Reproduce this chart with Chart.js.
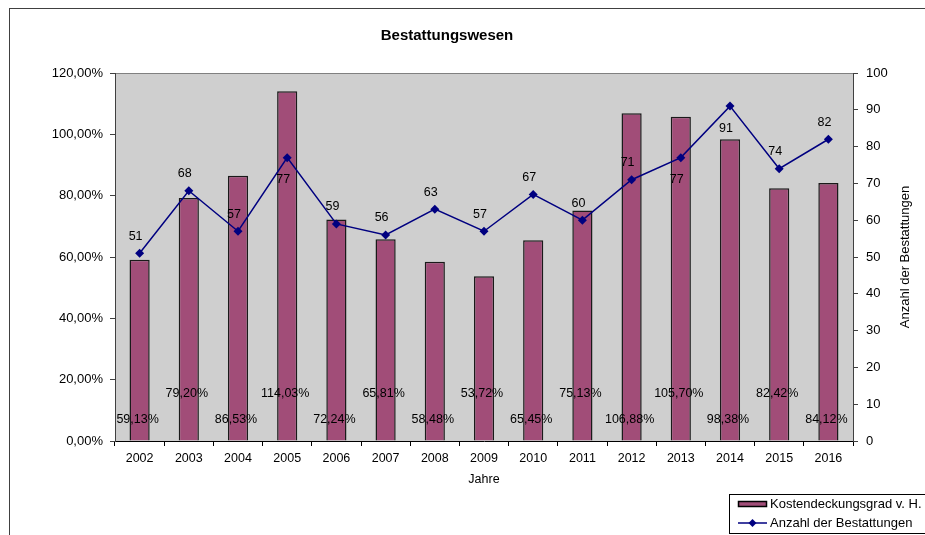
<!DOCTYPE html>
<html>
<head>
<meta charset="utf-8">
<script src="https://cdn.jsdelivr.net/npm/chart.js@4.4.0/dist/chart.umd.min.js"></script>
<style>
    html, body { margin: 0; padding: 0; background: #fff; }
    #wrap { width: 925px; height: 535px; }
</style>
</head>
<body>
<div id="wrap"><canvas id="bestattungChart" width="925" height="535"></canvas></div>
<script>
/*************************************************
 * Bestattungswesen: Kostendeckung + Anzahl      *
 *************************************************/
const jahre = ['2002', '2003', '2004', '2005', '2006', '2007', '2008', '2009',
               '2010', '2011', '2012', '2013', '2014', '2015', '2016'];
const kostendeckung = [59.13, 79.20, 86.53, 114.03, 72.24, 65.81, 58.48, 53.72,
                       65.45, 75.13, 106.88, 105.70, 98.38, 82.42, 84.12];
const bestattungen = [51, 68, 57, 77, 59, 56, 63, 57, 67, 60, 71, 77, 91, 74, 82];

const barColor = '#A14D78';
const lineColor = '#000080';
const fontFamily = '"Liberation Sans", Arial, sans-serif';

Chart.defaults.font.family = fontFamily;
Chart.defaults.color = '#000';

const fmtPercent = v => v.toFixed(2).replace('.', ',') + '%';

// plot background + outer frame
const backgroundPlugin = {
    id: 'plotBackground',
    beforeDraw(chart) {
        const { ctx, chartArea: a } = chart;
        ctx.save();
        ctx.fillStyle = '#CFCFCF';
        ctx.fillRect(a.left, a.top, a.right - a.left, a.bottom - a.top);
        ctx.strokeStyle = '#808080';
        ctx.lineWidth = 1;
        ctx.beginPath();
        ctx.moveTo(a.left, a.top + 0.5);
        ctx.lineTo(a.right, a.top + 0.5);
        ctx.stroke();
        ctx.strokeStyle = '#404040';
        ctx.strokeRect(9.5, 8.5, 1000, 1000);
        ctx.restore();
    }
};

// data labels, right axis title, legend box
const labelsPlugin = {
    id: 'extraLabels',
    afterDraw(chart) {
        const { ctx, chartArea: a } = chart;
        const yScale = chart.scales.y;
        const zero = yScale.getPixelForValue(0);
        ctx.save();
        ctx.font = '12.5px ' + fontFamily;
        ctx.fillStyle = '#000';
        ctx.textAlign = 'center';
        ctx.textBaseline = 'middle';

        // bar value labels, alternating height
        chart.getDatasetMeta(0).data.forEach((bar, i) => {
            const y = zero - (i % 2 ? 47 : 21);
            ctx.fillText(fmtPercent(kostendeckung[i]), bar.x - 2, y);
        });

        // line value labels
        const below = [3, 11, 12];
        chart.getDatasetMeta(1).data.forEach((pt, i) => {
            const y = below.includes(i) ? pt.y + 22 : pt.y - 17;
            ctx.fillText(String(bestattungen[i]), pt.x - 4, y);
        });

        // right axis title
        ctx.font = '13px ' + fontFamily;
        ctx.save();
        ctx.translate(905, (a.top + a.bottom) / 2);
        ctx.rotate(-Math.PI / 2);
        ctx.fillText('Anzahl der Bestattungen', 0, 0);
        ctx.restore();

        // legend
        const lx = 729, ly = 494;
        ctx.fillStyle = '#fff';
        ctx.fillRect(lx, ly, 210, 39);
        ctx.strokeStyle = '#000';
        ctx.lineWidth = 1;
        ctx.strokeRect(lx + 0.5, ly + 0.5, 210, 39);

        ctx.fillStyle = barColor;
        ctx.fillRect(lx + 9, ly + 7, 29, 6);
        ctx.strokeStyle = '#000';
        ctx.lineWidth = 1.5;
        ctx.strokeRect(lx + 9.5, ly + 7.5, 28, 5);

        ctx.strokeStyle = lineColor;
        ctx.lineWidth = 1.5;
        ctx.beginPath();
        ctx.moveTo(lx + 9, ly + 29);
        ctx.lineTo(lx + 38, ly + 29);
        ctx.stroke();
        ctx.fillStyle = lineColor;
        ctx.beginPath();
        ctx.moveTo(lx + 23.5, ly + 25);
        ctx.lineTo(lx + 27.5, ly + 29);
        ctx.lineTo(lx + 23.5, ly + 33);
        ctx.lineTo(lx + 19.5, ly + 29);
        ctx.closePath();
        ctx.fill();

        ctx.fillStyle = '#000';
        ctx.textAlign = 'left';
        ctx.fillText(chart.data.datasets[0].label, lx + 41, ly + 10);
        ctx.fillText(chart.data.datasets[1].label, lx + 41, ly + 29);
        ctx.restore();
    }
};

const chart = new Chart(document.getElementById('bestattungChart').getContext('2d'), {
    data: {
        labels: jahre,
        datasets: [{
            type: 'bar',
            label: 'Kostendeckungsgrad v. H.',
            data: kostendeckung,
            yAxisID: 'y',
            backgroundColor: barColor,
            borderColor: '#1a1a1a',
            borderWidth: 1.5,
            barPercentage: 0.41,
            categoryPercentage: 1,
            order: 2
        }, {
            type: 'line',
            label: 'Anzahl der Bestattungen',
            data: bestattungen,
            yAxisID: 'y1',
            borderColor: lineColor,
            backgroundColor: lineColor,
            borderWidth: 1.5,
            pointStyle: 'rectRot',
            pointRadius: 4.5,
            pointBorderWidth: 0,
            tension: 0,
            order: 1
        }]
    },
    options: {
        responsive: false,
        animation: false,
        layout: {
            padding: { top: 0, left: 0, right: 31, bottom: 0 }
        },
        plugins: {
            legend: { display: false },
            tooltip: { enabled: false },
            title: {
                display: true,
                text: 'Bestattungswesen',
                color: '#000',
                font: { size: 15, weight: 'bold' },
                padding: { top: 27, bottom: 28 }
            }
        },
        scales: {
            x: {
                afterFit(scale) { scale.height = 94; },
                grid: {
                    offset: true,
                    drawOnChartArea: false,
                    tickLength: 5,
                    color: '#000'
                },
                border: { display: true, color: '#000' },
                ticks: { padding: 5, font: { size: 12.5 } },
                title: {
                    display: true,
                    text: 'Jahre',
                    font: { size: 12.5 },
                    padding: { top: 0, bottom: 48 }
                }
            },
            y: {
                position: 'left',
                min: 0,
                max: 120,
                afterFit(scale) { scale.width = 115; },
                ticks: {
                    stepSize: 20,
                    padding: 7,
                    font: { size: 13 },
                    callback: v => fmtPercent(v)
                },
                grid: { drawOnChartArea: false, tickLength: 5, color: '#404040' },
                border: { display: true, color: '#404040' }
            },
            y1: {
                position: 'right',
                min: 0,
                max: 100,
                afterFit(scale) { scale.width = 41; },
                ticks: { stepSize: 10, padding: 8, font: { size: 13 } },
                grid: { drawOnChartArea: false, tickLength: 5, color: '#404040' },
                border: { display: true, color: '#404040' }
            }
        }
    },
    plugins: [backgroundPlugin, labelsPlugin]
});
</script>
</body>
</html>
